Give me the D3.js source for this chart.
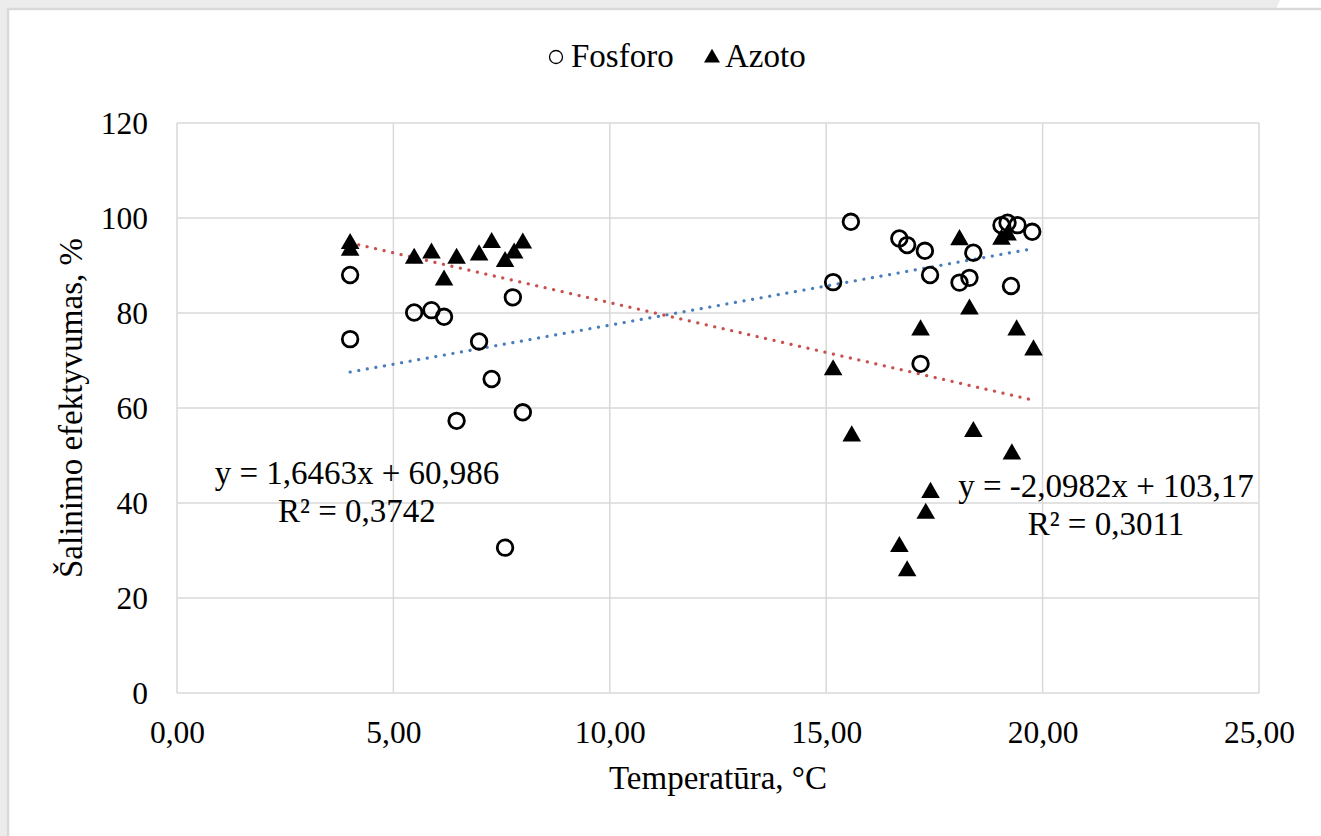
<!DOCTYPE html>
<html>
<head>
<meta charset="utf-8">
<script src="https://cdn.jsdelivr.net/npm/d3@7"></script>
<style>
  html, body { margin: 0; padding: 0; background: #fff; }
  svg { display: block; }
  svg text { font-family: "Liberation Serif", "Times New Roman", serif; fill: #000; }
</style>
</head>
<body>
<div id="chart"></div>
<script>
// ===== Data =====
const fosforoX = [4.0, 4.0, 5.48, 5.88, 6.17, 6.46, 6.98, 7.27, 7.58, 7.76, 7.99,
  15.16, 15.57, 16.69, 16.87, 17.18, 17.28, 17.40, 18.08, 18.31, 18.40, 19.05, 19.19, 19.27, 19.42, 19.76];
const fosforoY = [88.0, 74.5, 80.1, 80.6, 79.2, 57.3, 74.0, 66.1, 30.6, 83.3, 59.1,
  86.5, 99.2, 95.7, 94.3, 69.3, 93.1, 88.0, 86.4, 87.4, 92.7, 98.5, 99.0, 85.7, 98.5, 97.1];

const azotoX = [4.0, 4.0, 5.48, 5.88, 6.17, 6.46, 6.98, 7.27, 7.58, 7.79, 7.99,
  15.16, 15.59, 16.69, 16.87, 17.18, 17.30, 17.41, 18.08, 18.31, 18.40, 19.05, 19.19, 19.29, 19.40, 19.79];
const azotoY = [94.6, 93.2, 91.5, 92.6, 86.9, 91.5, 92.2, 94.8, 90.8, 92.6, 94.7,
  68.0, 54.1, 30.8, 25.7, 76.4, 37.8, 42.2, 95.4, 80.8, 55.0, 95.5, 96.4, 50.3, 76.4, 72.2];

// trend lines: [slope, intercept]
const fosforoTrend = [1.6463, 60.986];
const azotoTrend = [-2.0982, 103.17];
const fosforoEq = ["y = 1,6463x + 60,986", "R² = 0,3742"];
const azotoEq = ["y = -2,0982x + 103,17", "R² = 0,3011"];

const xTicks = [0, 5, 10, 15, 20, 25];
const yTicks = [0, 20, 40, 60, 80, 100, 120];
const seriesNames = ["Fosforo", "Azoto"];

// ===== Layout =====
const WIDTH = 1321, HEIGHT = 836;
const M = { top: 123, left: 177, right: 62, bottom: 143 };
const w = WIDTH - M.left - M.right;
const h = HEIGHT - M.top - M.bottom;
const FS_TICK = 31.5, FS = 33;
const fmtX = d => d3.format(".2f")(d).replace(".", ",");

const svg = d3.select("#chart").append("svg")
  .attr("width", WIDTH).attr("height", HEIGHT);

// page frame
svg.append("rect").attr("width", WIDTH).attr("height", HEIGHT).attr("fill", "#ececec");
svg.append("path").attr("fill", "#fff")
  .attr("d", "M1280,0 L1321,0 L1321,9 L1276,9 Z");
svg.append("rect").attr("x", 8).attr("y", 9)
  .attr("width", WIDTH).attr("height", HEIGHT)
  .attr("fill", "#fff").attr("stroke", "#d9d9d9").attr("stroke-width", 2.5);

const x = d3.scaleLinear().domain([0, 25]).range([0, w]);
const y = d3.scaleLinear().domain([0, 120]).range([h, 0]);

const plot = svg.append("g").attr("transform", `translate(${M.left},${M.top})`);

// gridlines
plot.append("g").selectAll("line.gx").data(xTicks).join("line")
  .attr("x1", d => x(d)).attr("x2", d => x(d)).attr("y1", 0).attr("y2", h)
  .attr("stroke", "#d9d9d9").attr("stroke-width", 1.5);
plot.append("g").selectAll("line.gy").data(yTicks).join("line")
  .attr("y1", d => y(d)).attr("y2", d => y(d)).attr("x1", 0).attr("x2", w)
  .attr("stroke", "#d9d9d9").attr("stroke-width", 1.5);

// axes (labels only)
const xAxis = plot.append("g").attr("transform", `translate(0,${h})`)
  .call(d3.axisBottom(x).tickValues(xTicks).tickFormat(fmtX).tickSize(0).tickPadding(28));
const yAxis = plot.append("g")
  .call(d3.axisLeft(y).tickValues(yTicks).tickSize(0).tickPadding(29));
[xAxis, yAxis].forEach(g => {
  g.attr("font-family", null).attr("font-size", null);
  g.select(".domain").remove();
  g.selectAll("text").attr("font-size", FS_TICK);
});

// trend lines
function trend(xs, coef, color){
  const ext = d3.extent(xs);
  const line = d3.line().x(d => x(d)).y(d => y(coef[0] * d + coef[1]));
  plot.append("path").datum(ext).attr("d", line)
    .attr("fill", "none").attr("stroke", color).attr("stroke-width", 3.2)
    .attr("stroke-linecap", "round").attr("stroke-dasharray", "0.1 8.6");
}
trend(fosforoX, fosforoTrend, "#4a7ebb");
trend(azotoX, azotoTrend, "#c9504d");

// markers
const tri = d3.symbol().type(d3.symbolTriangle).size(150);
plot.append("g").selectAll("path").data(d3.range(azotoX.length)).join("path")
  .attr("d", tri)
  .attr("transform", i => `translate(${x(azotoX[i])},${y(azotoY[i])})`)
  .attr("fill", "#000");
plot.append("g").selectAll("circle").data(d3.range(fosforoX.length)).join("circle")
  .attr("cx", i => x(fosforoX[i])).attr("cy", i => y(fosforoY[i]))
  .attr("r", 7.8).attr("fill", "none").attr("stroke", "#000").attr("stroke-width", 2.8);

// equation labels
function eqLabel(lines, cx, by){
  const t = svg.append("text").attr("text-anchor", "middle").attr("font-size", FS);
  lines.forEach((s, i) => t.append("tspan").attr("x", cx).attr("y", by + i * 38).text(s));
}
eqLabel(fosforoEq, 357, 484);
eqLabel(azotoEq, 1106, 497);

// axis titles
svg.append("text").attr("text-anchor", "middle").attr("font-size", FS)
  .attr("x", M.left + w / 2).attr("y", 789).text("Temperatūra, °C");
svg.append("text").attr("text-anchor", "middle").attr("font-size", FS)
  .attr("transform", `translate(82,${M.top + h / 2}) rotate(-90)`)
  .text("Šalinimo efektyvumas, %");

// legend
const lg = svg.append("g").attr("font-size", FS);
lg.append("circle").attr("cx", 556).attr("cy", 57).attr("r", 6.5)
  .attr("fill", "none").attr("stroke", "#000").attr("stroke-width", 1.3);
lg.append("text").attr("x", 571).attr("y", 67).text(seriesNames[0]);
lg.append("path").attr("d", d3.symbol().type(d3.symbolTriangle).size(110))
  .attr("transform", "translate(712,58)").attr("fill", "#000");
lg.append("text").attr("x", 725).attr("y", 67).text(seriesNames[1]);
</script>
</body>
</html>
